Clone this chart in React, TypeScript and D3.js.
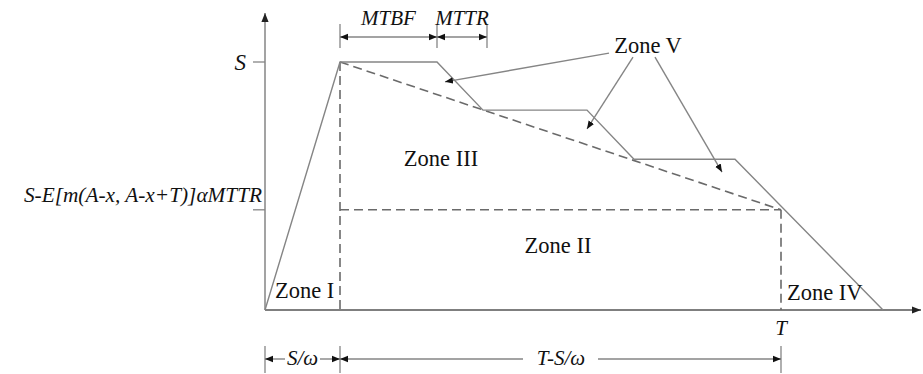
import React from "react";
import * as d3 from "d3";

// inventory level over time (time in S/ω-ish units, level with S = 5)
const pathTimes = [0, 1.5, 3.44, 4.36, 6.44, 7.38, 9.4, 12.36];
const pathLevels = [0, 5, 5, 4.03, 4.03, 3.04, 3.04, 0];

const S = 5;
const rampEnd = 1.5; // S/ω
const horizon = 10.32; // T
const floorLevel = 2.02; // S-E[...]αMTTR
const mtbf = 1.94;
const mttr = 1.0;

const levelLabels = ["S", "S-E[m(A-x, A-x+T)]αMTTR"];
const spanLabels = ["S/ω", "T-S/ω"];
const zoneNames = ["Zone I", "Zone II", "Zone III", "Zone IV", "Zone V"];

// Zone V pointers: [tailTime, tailLevel, headTime, headLevel]
const zoneVArrows = [
  [6.88, 5.18, 3.6, 4.6],
  [7.36, 5.1, 6.44, 3.65],
  [7.8, 5.1, 9.14, 2.78],
];

const W = 923;
const H = 374;
const serif = "'Liberation Serif', 'Times New Roman', serif";

const App = () => {
  const x = d3.scaleLinear().domain([0, 1]).range([265, 315]);
  const y = d3.scaleLinear().domain([0, 1]).range([310, 260.4]);

  const line = d3
    .line<number>()
    .x((_, i) => x(pathTimes[i]))
    .y((_, i) => y(pathLevels[i]));

  const x0 = x(0);
  const y0 = y(0);
  const xr = x(rampEnd);
  const xT = x(horizon);
  const yS = y(S);
  const yF = y(floorLevel);
  const xB = x(rampEnd + mtbf);
  const xR = x(rampEnd + mtbf + mttr);

  const dimY = 37;
  const botY = 359;
  const grey = "#858585";
  const dash = "#6a6a6a";

  const arrowLine = (x1: number, y1: number, x2: number, y2: number, key: string, both = false) => (
    <line
      key={key}
      x1={x1}
      y1={y1}
      x2={x2}
      y2={y2}
      stroke={grey}
      strokeWidth={1.4}
      markerEnd="url(#ah)"
      markerStart={both ? "url(#ahs)" : undefined}
    />
  );

  return (
    <svg
      width={W}
      height={H}
      style={{ position: "absolute", left: 0, top: 0, background: "#fff" }}
      fontFamily={serif}
      fill="#111"
    >
      <defs>
        <marker id="ah" viewBox="0 0 10 10" refX="10" refY="5" markerWidth="8" markerHeight="8" markerUnits="userSpaceOnUse" orient="auto">
          <path d="M0,1 L10,5 L0,9 Z" fill="#111" />
        </marker>
        <marker id="ahs" viewBox="0 0 10 10" refX="10" refY="5" markerWidth="8" markerHeight="8" markerUnits="userSpaceOnUse" orient="auto-start-reverse">
          <path d="M0,1 L10,5 L0,9 Z" fill="#111" />
        </marker>
        <marker id="axh" viewBox="0 0 10 10" refX="10" refY="5" markerWidth="9" markerHeight="9" markerUnits="userSpaceOnUse" orient="auto">
          <path d="M0,1 L10,5 L0,9 Z" fill="#222" />
        </marker>
      </defs>

      {/* axes */}
      <line x1={x0} y1={y0} x2={x0} y2={13} stroke={grey} strokeWidth={1.5} markerEnd="url(#axh)" />
      <line x1={x0} y1={y0} x2={921} y2={y0} stroke="#555" strokeWidth={1.5} markerEnd="url(#axh)" />
      <line x1={253} y1={yS} x2={x0} y2={yS} stroke={grey} strokeWidth={1.3} />
      <line x1={253} y1={yF} x2={x0} y2={yF} stroke={grey} strokeWidth={1.3} />

      {/* dashed guides */}
      <g stroke={dash} strokeWidth={1.6} strokeDasharray="9,5" fill="none">
        <line x1={xr} y1={yS} x2={xT} y2={yF} />
        <line x1={xr} y1={yF} x2={xT} y2={yF} />
        <line x1={xr} y1={yS} x2={xr} y2={y0} />
        <line x1={xT} y1={yF} x2={xT} y2={y0} />
      </g>

      {/* inventory curve */}
      <path d={line(pathTimes) ?? ""} fill="none" stroke={grey} strokeWidth={1.4} />

      {/* MTBF / MTTR dimension */}
      {[xr, xB, xR].map((v, i) => (
        <line key={"mt" + i} x1={v} y1={24} x2={v} y2={48} stroke={grey} strokeWidth={1.3} />
      ))}
      {arrowLine(xr, dimY, xB, dimY, "mtbf", true)}
      {arrowLine(xB, dimY, xR, dimY, "mttr", true)}
      <text x={(xr + xB) / 2} y={25} fontSize={21} fontStyle="italic" textAnchor="middle">MTBF</text>
      <text x={(xB + xR) / 2} y={25} fontSize={21} fontStyle="italic" textAnchor="middle">MTTR</text>

      {/* bottom span dimension */}
      {[x0, xr, xT].map((v, i) => (
        <line key={"bt" + i} x1={v} y1={346} x2={v} y2={373} stroke={grey} strokeWidth={1.3} />
      ))}
      {arrowLine(285, botY, x0, botY, "s1")}
      {arrowLine(320, botY, xr, botY, "s2")}
      {arrowLine(523, botY, xr, botY, "s3")}
      {arrowLine(598, botY, xT, botY, "s4")}
      <text x={(x0 + xr) / 2} y={365} fontSize={21} fontStyle="italic" textAnchor="middle">{spanLabels[0]}</text>
      <text x={561} y={365} fontSize={21} fontStyle="italic" textAnchor="middle">{spanLabels[1]}</text>

      {/* axis labels */}
      <text x={246} y={70} fontSize={23} fontStyle="italic" textAnchor="end">{levelLabels[0]}</text>
      <text x={262} y={202} fontSize={21.3} fontStyle="italic" textAnchor="end">{levelLabels[1]}</text>
      <text x={xT} y={335} fontSize={21} fontStyle="italic" textAnchor="middle">T</text>

      {/* zones */}
      <text x={275} y={298} fontSize={22.5}>{zoneNames[0]}</text>
      <text x={558} y={253} fontSize={22.5} textAnchor="middle">{zoneNames[1]}</text>
      <text x={441} y={166} fontSize={22.5} textAnchor="middle">{zoneNames[2]}</text>
      <text x={787} y={300} fontSize={22.5}>{zoneNames[3]}</text>
      <text x={648} y={53} fontSize={22.5} textAnchor="middle">{zoneNames[4]}</text>

      {zoneVArrows.map((a, i) =>
        arrowLine(x(a[0]), y(a[1]), x(a[2]), y(a[3]), "zv" + i)
      )}
    </svg>
  );
};

export default App;
